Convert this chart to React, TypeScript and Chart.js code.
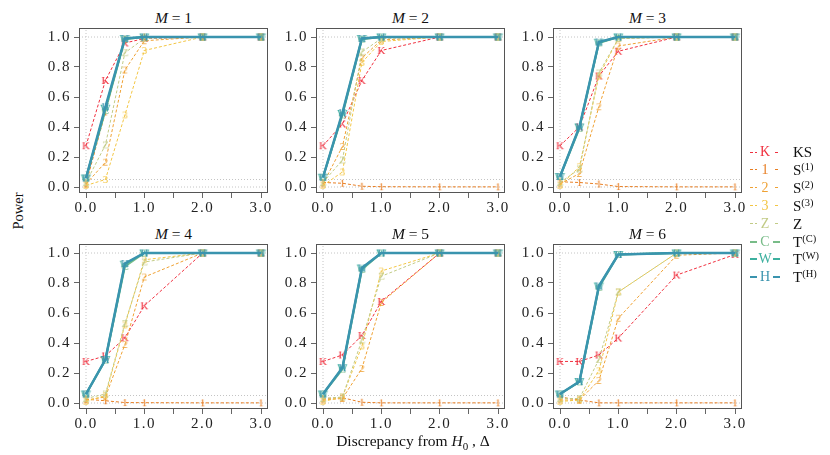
import { useEffect, useRef } from 'react';
import { Chart, registerables } from 'chart.js';

Chart.register(...registerables);

// discrepancy from H0 (x positions)
const deltas = [0, 0.333, 0.667, 1, 2, 3];
const xTicks = [0, 0.5, 1, 1.5, 2, 2.5, 3];
const yTicks = [0, 0.2, 0.4, 0.6, 0.8, 1.0];
const refLevels = [0, 0.05, 1.0];
const panelsM = [1, 2, 3, 4, 5, 6];

// power per statistic, one row per M
const ksPower = [
  [0.275, 0.71, 0.96, 0.99, 1, 1],
  [0.275, 0.42, 0.71, 0.91, 1, 1],
  [0.275, 0.4, 0.74, 0.905, 1, 1],
  [0.277, 0.314, 0.435, 0.648, 1, 1],
  [0.277, 0.32, 0.45, 0.677, 1, 1],
  [0.277, 0.277, 0.32, 0.433, 0.853, 0.99],
];
const s1Power = [
  [0.02, 0.5, 0.985, 1, 1, 1],
  [0.03, 0.025, 0.005, 0.002, 0.001, 0.001],
  [0.035, 0.03, 0.02, 0.003, 0.001, 0.001],
  [0.025, 0.015, 0.003, 0.002, 0.001, 0.001],
  [0.03, 0.035, 0.005, 0.001, 0.001, 0.001],
  [0.04, 0.02, 0.001, 0.001, 0.001, 0.001],
];
const s2Power = [
  [0.02, 0.165, 0.78, 0.975, 1, 1],
  [0.02, 0.27, 0.86, 0.98, 1, 1],
  [0.02, 0.09, 0.535, 0.94, 1, 1],
  [0.02, 0.04, 0.39, 0.84, 1, 1],
  [0.02, 0.03, 0.23, 0.67, 1, 1],
  [0.02, 0.02, 0.15, 0.565, 0.985, 1],
];
const s3Power = [
  [0.01, 0.05, 0.48, 0.91, 1, 1],
  [0.01, 0.1, 0.83, 0.97, 1, 1],
  [0.01, 0.135, 0.74, 0.99, 1, 1],
  [0.01, 0.05, 0.52, 0.955, 1, 1],
  [0.01, 0.04, 0.38, 0.88, 1, 1],
  [0.01, 0.02, 0.215, 0.74, 1, 1],
];
const zPower = [
  [0.03, 0.28, 0.895, 0.99, 1, 1],
  [0.03, 0.18, 0.9, 0.99, 1, 1],
  [0.03, 0.12, 0.76, 0.99, 1, 1],
  [0.03, 0.06, 0.53, 0.94, 1, 1],
  [0.03, 0.04, 0.42, 0.845, 1, 1],
  [0.03, 0.03, 0.29, 0.74, 1, 1],
];
const tcPower = [
  [0.06, 0.51, 0.985, 1, 1, 1],
  [0.065, 0.48, 0.985, 1, 1, 1],
  [0.07, 0.39, 0.96, 1, 1, 1],
  [0.06, 0.285, 0.91, 1, 1, 1],
  [0.06, 0.225, 0.89, 1, 1, 1],
  [0.06, 0.14, 0.77, 0.99, 1, 1],
];
const twPower = [
  [0.06, 0.525, 0.99, 1, 1, 1],
  [0.065, 0.49, 0.99, 1, 1, 1],
  [0.07, 0.4, 0.965, 1, 1, 1],
  [0.06, 0.29, 0.925, 1, 1, 1],
  [0.06, 0.235, 0.9, 1, 1, 1],
  [0.06, 0.143, 0.78, 0.99, 1, 1],
];
const thPower = [
  [0.06, 0.535, 0.99, 1, 1, 1],
  [0.065, 0.495, 0.99, 1, 1, 1],
  [0.07, 0.4, 0.967, 1, 1, 1],
  [0.06, 0.29, 0.93, 1, 1, 1],
  [0.06, 0.235, 0.9, 1, 1, 1],
  [0.06, 0.143, 0.78, 0.99, 1, 1],
];

type Series = {
  mark: string;
  label: string;
  sup?: string;
  color: string;
  width: number;
  dashed: boolean;
  values: number[][];
};

const series: Series[] = [
  { mark: 'K', label: 'KS', color: '#F0303F', width: 1, dashed: true, values: ksPower },
  { mark: '1', label: 'S', sup: '(1)', color: '#E87E22', width: 1, dashed: true, values: s1Power },
  { mark: '2', label: 'S', sup: '(2)', color: '#EFA133', width: 1, dashed: true, values: s2Power },
  { mark: '3', label: 'S', sup: '(3)', color: '#F3C644', width: 1, dashed: true, values: s3Power },
  { mark: 'Z', label: 'Z', color: '#C2CB86', width: 1, dashed: true, values: zPower },
  { mark: 'C', label: 'T', sup: '(C)', color: '#78BC88', width: 2, dashed: false, values: tcPower },
  { mark: 'W', label: 'T', sup: '(W)', color: '#3CB09F', width: 2, dashed: false, values: twPower },
  { mark: 'H', label: 'T', sup: '(H)', color: '#3A94AE', width: 2.5, dashed: false, values: thPower },
];

const FONT = '"Liberation Serif", "DejaVu Serif", serif';
const boxLefts = [79, 316, 553];
const boxTops = [26, 242];
const BOX_W = 189;
const BOX_H = 167;
const Y_AXIS_W = 45;
const X_AXIS_H = 26;
const PAD_TOP = 10;
const PAD_RIGHT = 14;

function letterMarker(ch: string, color: string, size: number) {
  const c = document.createElement('canvas');
  c.width = size + 2;
  c.height = size + 2;
  const ctx = c.getContext('2d');
  if (ctx) {
    ctx.font = `${size}px ${FONT}`;
    ctx.fillStyle = color;
    ctx.textAlign = 'center';
    ctx.textBaseline = 'middle';
    ctx.fillText(ch, c.width / 2, c.height / 2 + 0.5);
  }
  return c;
}

const boxPlugin = {
  id: 'panelBox',
  beforeDraw(chart: Chart) {
    // the reference's tick labels are set a little wider than plain Times
    (chart.ctx as any).letterSpacing = '1.5px';
  },
  afterDatasetsDraw(chart: Chart) {
    const { ctx, chartArea: a } = chart;
    ctx.save();
    ctx.strokeStyle = '#555';
    ctx.lineWidth = 1;
    ctx.strokeRect(Math.round(a.left) + 0.5, Math.round(a.top) + 0.5, Math.round(a.width) - 1, Math.round(a.height) - 1);
    ctx.restore();
  },
};

function Panel({ idx }: { idx: number }) {
  const canvasRef = useRef<HTMLCanvasElement>(null);
  const chartRef = useRef<Chart | null>(null);
  const left = boxLefts[idx % 3] - Y_AXIS_W;
  const top = boxTops[Math.floor(idx / 3)] - PAD_TOP;
  const w = Y_AXIS_W + BOX_W + PAD_RIGHT;
  const h = PAD_TOP + BOX_H + X_AXIS_H;

  useEffect(() => {
    if (!canvasRef.current) return;
    if (chartRef.current) chartRef.current.destroy();

    const refColor = '#c4c4c4';
    const refSets: any[] = refLevels.map((y) => ({
      data: [{ x: -0.12, y }, { x: 3.12, y }],
      borderColor: refColor,
      borderWidth: 1,
      borderDash: [1, 2],
      pointRadius: 0,
      order: 100,
    }));
    refSets.push({
      data: [{ x: 0, y: -0.04 }, { x: 0, y: 1.06 }],
      borderColor: refColor,
      borderWidth: 1,
      borderDash: [1, 2],
      pointRadius: 0,
      order: 100,
    });

    const dataSets: any[] = series.map((s, i) => ({
      data: deltas.map((x, j) => ({ x, y: s.values[idx][j] })),
      borderColor: s.color,
      borderWidth: s.width,
      borderDash: s.dashed ? [3, 2] : [],
      pointStyle: letterMarker(s.mark, s.color, 11),
      pointRadius: 5,
      tension: 0,
      order: series.length - i,
    }));

    const tickFont = { family: FONT, size: 15 };

    chartRef.current = new Chart(canvasRef.current, {
      type: 'line',
      data: { datasets: [...refSets, ...dataSets] },
      options: {
        responsive: false,
        animation: false,
        layout: { padding: { top: PAD_TOP, right: PAD_RIGHT, left: 0, bottom: 0 } },
        plugins: { legend: { display: false }, tooltip: { enabled: false } },
        scales: {
          x: {
            type: 'linear',
            min: -0.12,
            max: 3.12,
            afterBuildTicks: (s: any) => {
              s.ticks = xTicks.map((value) => ({ value }));
            },
            afterFit: (s: any) => {
              s.height = X_AXIS_H;
            },
            ticks: {
              autoSkip: false,
              maxRotation: 0,
              padding: 1,
              color: '#222',
              font: tickFont,
              callback: (v: any) => (Number.isInteger(v) ? Number(v).toFixed(1) : ''),
            },
            grid: { drawOnChartArea: false, drawTicks: true, tickLength: 5, color: '#666' },
            border: { display: false },
          },
          y: {
            type: 'linear',
            min: -0.04,
            max: 1.06,
            afterBuildTicks: (s: any) => {
              s.ticks = yTicks.map((value) => ({ value }));
            },
            afterFit: (s: any) => {
              s.width = Y_AXIS_W;
            },
            ticks: {
              autoSkip: false,
              padding: 3,
              color: '#222',
              font: tickFont,
              callback: (v: any) => Number(v).toFixed(1),
            },
            grid: { drawOnChartArea: false, drawTicks: true, tickLength: 5, color: '#666' },
            border: { display: false },
          },
        },
      },
      plugins: [boxPlugin],
    });

    return () => {
      if (chartRef.current) {
        chartRef.current.destroy();
        chartRef.current = null;
      }
    };
  }, [idx]);

  const titleTop = boxTops[Math.floor(idx / 3)] - 16;
  return (
    <>
      <div
        style={{
          position: 'absolute',
          left: boxLefts[idx % 3],
          width: BOX_W,
          top: titleTop,
          height: 16,
          lineHeight: '16px',
          textAlign: 'center',
          fontSize: 15.5,
          color: '#111',
        }}
      >
        <i>M</i> = {panelsM[idx]}
      </div>
      <canvas
        ref={canvasRef}
        width={w}
        height={h}
        style={{ position: 'absolute', left, top, width: w, height: h }}
      />
    </>
  );
}

function LegendRow({ s, y }: { s: Series; y: number }) {
  const line = s.dashed
    ? `repeating-linear-gradient(to right, ${s.color} 0 3px, transparent 3px 5px)`
    : s.color;
  return (
    <div style={{ position: 'absolute', left: 750, top: y - 9, height: 18, width: 80 }}>
      <div
        style={{
          position: 'absolute',
          left: 0,
          width: 30,
          top: 9 - (s.dashed ? 0.5 : 1),
          height: s.dashed ? 1 : 2,
          background: line,
        }}
      />
      <div
        style={{
          position: 'absolute',
          left: 7,
          width: 16,
          top: 0,
          height: 18,
          lineHeight: '18px',
          textAlign: 'center',
          background: '#fff',
          color: s.color,
          fontSize: 14,
        }}
      >
        {s.mark}
      </div>
      <div
        style={{
          position: 'absolute',
          left: 43,
          top: 0,
          height: 18,
          lineHeight: '18px',
          fontSize: 15,
          color: '#111',
          whiteSpace: 'nowrap',
        }}
      >
        {s.label}
        {s.sup && <sup style={{ fontSize: 10.5, lineHeight: 0, verticalAlign: 5 }}>{s.sup}</sup>}
      </div>
    </div>
  );
}

export default function App() {
  return (
    <div
      style={{
        position: 'absolute',
        left: 0,
        top: 0,
        width: 830,
        height: 455,
        background: '#fff',
        fontFamily: FONT,
        overflow: 'hidden',
      }}
    >
      {panelsM.map((m, i) => (
        <Panel key={m} idx={i} />
      ))}
      {series.map((s, i) => (
        <LegendRow key={s.mark} s={s} y={152 + i * 17.9} />
      ))}
      <div
        style={{
          position: 'absolute',
          left: 18 - 30,
          top: 211 - 8,
          width: 60,
          height: 16,
          lineHeight: '16px',
          textAlign: 'center',
          fontSize: 14.5,
          color: '#111',
          transform: 'rotate(-90deg)',
        }}
      >
        Power
      </div>
      <div
        style={{
          position: 'absolute',
          left: 263,
          width: 300,
          top: 432,
          height: 17,
          lineHeight: '17px',
          textAlign: 'center',
          fontSize: 15.5,
          color: '#111',
        }}
      >
        Discrepancy from <i>H</i>
        <sub style={{ fontSize: 11, lineHeight: 0 }}>0</sub> , Δ
      </div>
    </div>
  );
}
